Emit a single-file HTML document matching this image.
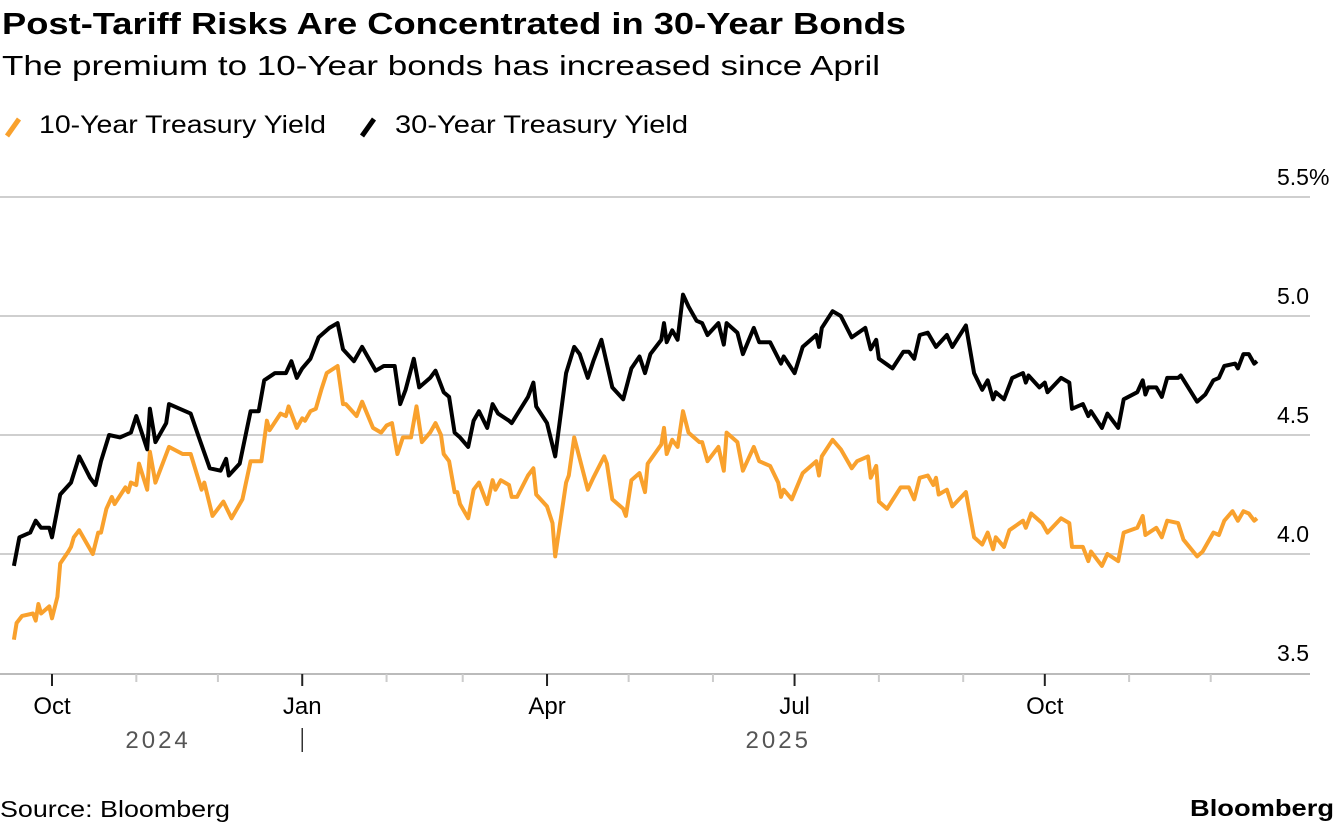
<!DOCTYPE html>
<html><head><meta charset="utf-8"><style>
body{margin:0;background:#fff;width:1336px;height:826px;overflow:hidden;font-family:"Liberation Sans",sans-serif}
svg text{font-family:"Liberation Sans",sans-serif}
</style></head><body>
<svg id="chart" width="1336" height="826" xmlns="http://www.w3.org/2000/svg">
<text x="2" y="34" font-size="31" font-weight="bold" fill="#000" textLength="904" lengthAdjust="spacingAndGlyphs">Post-Tariff Risks Are Concentrated in 30-Year Bonds</text>
<text x="2" y="75" font-size="28" fill="#000" textLength="878" lengthAdjust="spacingAndGlyphs">The premium to 10-Year bonds has increased since April</text>
<g>
<line x1="7" y1="136" x2="19" y2="119" stroke="#f9a12d" stroke-width="5"/>
<text x="39" y="133" font-size="25" fill="#000" textLength="287" lengthAdjust="spacingAndGlyphs">10-Year Treasury Yield</text>
<line x1="362" y1="136" x2="374" y2="119" stroke="#000" stroke-width="5"/>
<text x="395" y="133" font-size="25" fill="#000" textLength="293" lengthAdjust="spacingAndGlyphs">30-Year Treasury Yield</text>
</g>
<g id="grid"></g><g id="axis"></g><g id="lines"></g>
<text x="0" y="817" font-size="23" fill="#000" textLength="230" lengthAdjust="spacingAndGlyphs">Source: Bloomberg</text>
<text x="1190" y="816" font-size="23" font-weight="bold" fill="#000" textLength="144" lengthAdjust="spacingAndGlyphs">Bloomberg</text>
</svg>
<script>
const yTicks=[3.5,4.0,4.5,5.0,5.5];
const yTickLabels=["3.5","4.0","4.5","5.0","5.5%"];
const monthTickDays=[0,31,61,92,123,151,182,212,243,273,304,335,365,396,426];
const majorTickDays=[0,92,182,273,365];
const majorTickLabels=["Oct","Jan","Apr","Jul","Oct"];
const yearLabels=["2024","2025"];
const yearLabelDays=[39,267];
const days30=[-14,-12,-8,-6,-4,-1,0,3,7,10,14,16,18,21,25,29,31,35,36,38,42,43,47,51,54,58,62,64,65,69,73,76,78,82,86,88,90,92,95,98,102,105,107,111,114,119,122,126,128,130,133,135,139,141,144,146,148,150,153,155,157,160,162,164,168,169,175,177,178,182,185,189,192,194,197,199,202,206,210,213,216,218,220,224,225,226,228,230,232,234,237,239,241,245,247,248,252,254,258,260,264,268,269,273,276,281,282,283,287,290,294,299,301,303,304,309,313,315,317,319,322,324,325,329,331,336,339,342,344,346,347,350,353,357,358,359,363,365,366,371,374,375,379,381,382,386,388,392,394,399,401,402,403,406,408,410,414,415,421,424,427,429,431,435,436,438,440,442,443];
const vals30=[3.95,4.07,4.09,4.14,4.11,4.11,4.07,4.25,4.30,4.41,4.32,4.29,4.39,4.50,4.49,4.51,4.58,4.44,4.61,4.47,4.55,4.63,4.61,4.59,4.49,4.36,4.35,4.40,4.33,4.38,4.60,4.60,4.73,4.76,4.76,4.81,4.74,4.78,4.82,4.91,4.95,4.97,4.86,4.81,4.87,4.77,4.79,4.79,4.63,4.69,4.82,4.70,4.74,4.77,4.68,4.66,4.51,4.49,4.45,4.56,4.60,4.53,4.63,4.59,4.56,4.55,4.66,4.72,4.62,4.55,4.41,4.76,4.87,4.84,4.74,4.81,4.90,4.70,4.65,4.78,4.83,4.76,4.84,4.90,4.97,4.89,4.94,4.90,5.09,5.04,4.98,4.97,4.92,4.97,4.88,4.97,4.93,4.84,4.95,4.89,4.89,4.80,4.83,4.76,4.87,4.92,4.87,4.95,5.02,5.00,4.91,4.95,4.86,4.90,4.82,4.78,4.85,4.85,4.82,4.92,4.93,4.89,4.87,4.92,4.87,4.96,4.76,4.69,4.73,4.65,4.68,4.65,4.74,4.76,4.72,4.75,4.70,4.72,4.68,4.74,4.72,4.61,4.63,4.58,4.60,4.53,4.59,4.53,4.65,4.68,4.73,4.67,4.70,4.70,4.66,4.74,4.74,4.75,4.64,4.67,4.73,4.74,4.79,4.80,4.78,4.84,4.84,4.80,4.81];
const days10=[-14,-13,-11,-7,-6,-5,-4,-1,0,2,3,6,7,8,10,15,17,18,20,22,23,27,28,29,31,32,35,36,38,43,48,51,55,56,59,63,66,70,73,77,79,80,84,86,87,90,92,93,95,97,99,101,105,107,108,112,114,118,121,123,125,127,129,132,134,136,139,141,143,144,146,148,149,150,153,155,157,160,162,163,165,168,169,171,175,177,178,182,184,185,189,190,192,197,199,203,204,206,210,211,213,216,218,219,224,225,226,228,230,232,234,238,239,241,245,247,248,252,254,258,260,264,267,268,269,272,276,281,282,283,287,290,294,296,300,301,303,304,307,312,315,317,319,322,324,325,326,329,331,336,339,342,344,346,347,350,352,357,358,360,364,366,371,374,375,379,381,382,386,388,392,394,399,401,402,406,408,410,414,416,421,423,427,429,431,434,436,438,440,442,443];
const vals10=[3.64,3.71,3.74,3.75,3.72,3.79,3.75,3.78,3.73,3.82,3.96,4.01,4.03,4.07,4.10,4.00,4.09,4.09,4.19,4.24,4.21,4.28,4.26,4.30,4.29,4.38,4.27,4.43,4.30,4.45,4.42,4.42,4.27,4.30,4.16,4.22,4.15,4.23,4.39,4.39,4.56,4.52,4.59,4.58,4.62,4.53,4.57,4.56,4.60,4.61,4.69,4.76,4.79,4.63,4.63,4.58,4.64,4.53,4.51,4.54,4.55,4.42,4.49,4.49,4.62,4.47,4.51,4.55,4.50,4.42,4.39,4.26,4.26,4.21,4.15,4.27,4.30,4.21,4.31,4.27,4.31,4.29,4.24,4.24,4.33,4.36,4.25,4.20,4.13,3.99,4.30,4.33,4.49,4.27,4.32,4.41,4.38,4.23,4.19,4.16,4.31,4.34,4.26,4.38,4.46,4.53,4.42,4.48,4.45,4.60,4.51,4.47,4.47,4.39,4.45,4.35,4.51,4.47,4.35,4.45,4.39,4.37,4.30,4.24,4.27,4.23,4.34,4.39,4.33,4.41,4.48,4.44,4.36,4.39,4.41,4.32,4.37,4.22,4.19,4.28,4.28,4.23,4.32,4.33,4.29,4.32,4.25,4.27,4.20,4.26,4.07,4.04,4.09,4.02,4.07,4.03,4.10,4.14,4.11,4.17,4.13,4.09,4.15,4.13,4.03,4.03,3.97,4.01,3.95,4.00,3.97,4.09,4.11,4.16,4.08,4.11,4.07,4.14,4.13,4.06,3.99,4.01,4.09,4.08,4.14,4.18,4.14,4.18,4.17,4.14,4.15];

const NS="http://www.w3.org/2000/svg";
const xS=d=>52+d*2.72;
const yS=v=>316-(v-5.0)*238;
function mk(tag,attrs,parent,txt){const e=document.createElementNS(NS,tag);for(const k in attrs)e.setAttribute(k,attrs[k]);if(txt!==undefined)e.textContent=txt;parent.appendChild(e);return e;}
const grid=document.getElementById('grid'),axis=document.getElementById('axis'),lines=document.getElementById('lines');
yTicks.forEach((t,i)=>{
  if(i>0){const g=mk('line',{x1:0,x2:1310,y1:yS(t),y2:yS(t),stroke:'#cfcfcf','stroke-width':2},grid);
  
  }
  const last=i===yTicks.length-1;
  const tx=mk('text',{x:last?1277:1309,y:yS(t)-12,'font-size':23,'text-anchor':last?'start':'end',fill:'#000'},grid,yTickLabels[i]);
  
  
});
const ax=mk('line',{x1:0,x2:1310,y1:674,y2:674,stroke:'#bbb','stroke-width':2},axis);


monthTickDays.forEach(d=>{
  const major=majorTickDays.includes(d);
  const t=mk('line',{x1:xS(d),x2:xS(d),y1:674,y2:major?686:682,stroke:major?'#222':'#ccc','stroke-width':2},axis);
  
  
});
majorTickDays.forEach((d,i)=>{
  const t=mk('text',{x:xS(d),y:714,'font-size':24,'text-anchor':'middle',fill:'#000'},axis,majorTickLabels[i]);
  
  
});
yearLabels.forEach((y,i)=>{
  const t=mk('text',{x:xS(yearLabelDays[i]),y:748,'font-size':24,'text-anchor':'middle',fill:'#555','letter-spacing':'3'},axis,y);
  
  
});
const ys=mk('line',{x1:xS(92),x2:xS(92),y1:728,y2:752,stroke:'#333','stroke-width':1.5},axis);


function series(days,vals,color,name){
  const d=days.map((x,i)=>(i?'L':'M')+xS(x).toFixed(1)+','+yS(vals[i]).toFixed(1)).join('');
  const p=mk('path',{d:d,fill:'none',stroke:color,'stroke-width':4,'stroke-linejoin':'round'},lines);
  
  
}
series(days10,vals10,'#f9a12d','line-10-year-yield');
series(days30,vals30,'#000','line-30-year-yield');
</script>
</body></html>
